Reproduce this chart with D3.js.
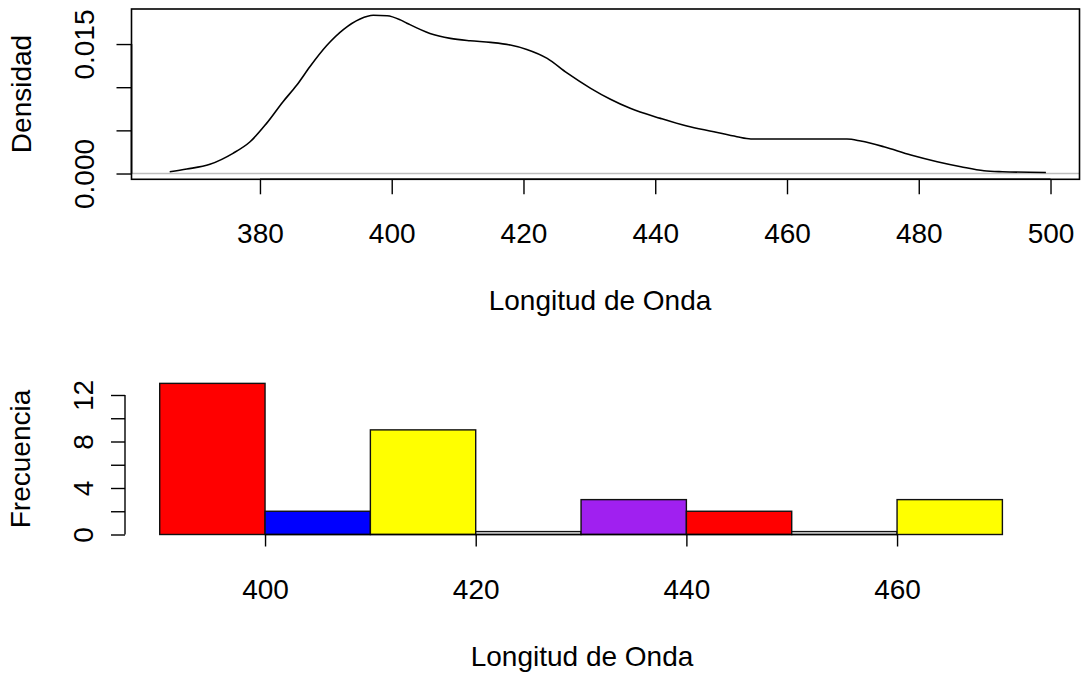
<!DOCTYPE html>
<html>
<head>
<meta charset="utf-8">
<script src="https://cdn.jsdelivr.net/npm/d3@7/dist/d3.min.js"></script>
<style>
  html, body { margin: 0; padding: 0; background: #fff; }
  svg { display: block; }
  text { font-family: "Liberation Sans", Arial, Helvetica, sans-serif; fill: #000; }
</style>
</head>
<body>
<svg id="chart" width="1085" height="673"></svg>
<script>
// Kernel density estimate of wavelength (nm)
const densX = [366.3, 368.9, 372.4, 375.9, 378.5, 381.0, 383.5, 385.6, 387.6, 390.1,
               392.7, 395.2, 397.2, 399.3, 401.3, 402.3, 405.8, 408.9, 411.9, 415.0,
               418.0, 420.5, 423.6, 426.6, 430.2, 433.2, 436.2, 440.8, 444.8,
               448.9, 452.4, 454.5, 460.0, 469.1, 471.2, 474.7, 478.8, 482.8, 486.4,
               489.9, 492.7, 499.3];
const densY = [0.00021, 0.00052, 0.00107, 0.00234, 0.00368, 0.00581, 0.00832, 0.01025, 0.01240, 0.01480,
               0.01670, 0.01790, 0.01833, 0.01828, 0.01780, 0.01742, 0.01623, 0.01566, 0.01538, 0.01519,
               0.01488, 0.01438, 0.01334, 0.01165, 0.00987, 0.00860, 0.00755, 0.00639, 0.00550,
               0.00484, 0.00426, 0.00400, 0.00400, 0.00400, 0.00376, 0.00310, 0.00214, 0.00137, 0.00079,
               0.00032, 0.00021, 0.00012];
const densXTicks = [380, 400, 420, 440, 460, 480, 500];
const densYTicks = [0, 0.005, 0.010, 0.015];
const densYLabels = [0, 0.015];

// Histogram of wavelength, 10 nm bins
const binStart = [390, 400, 410, 420, 430, 440, 450, 460];
const binEnd   = [400, 410, 420, 430, 440, 450, 460, 470];
const binCount = [13, 2, 9, 0.25, 3, 2, 0.25, 3];
const binColor = ["#FF0000", "#0000FF", "#FFFF00", "#FFFFFF", "#A020F0", "#FF0000", "#FFFFFF", "#FFFF00"];
const histXTicks = [400, 420, 440, 460];
const histYTicks = [0, 2, 4, 6, 8, 10, 12];
const histYLabels = [0, 4, 8, 12];

const xTitle = "Longitud de Onda";
const densYTitle = "Densidad";
const histYTitle = "Frecuencia";

const FS = 28;
const TICK = 15;
const svg = d3.select("#chart");

function styleAxis(g) {
  g.select(".domain").remove();
  g.selectAll(".tick line").attr("stroke", "#000").attr("stroke-width", 1.4);
  g.selectAll(".tick text").attr("font-size", FS).attr("fill", "#000")
    .attr("font-family", "Liberation Sans, Arial, sans-serif");
}

// ---------- Top panel: density ----------
const dx = d3.scaleLinear().domain([360.5, 504.4]).range([131.5, 1079.5]);
const dy = d3.scaleLinear().domain([-0.00067, 0.01906]).range([179.3, 9]);

// zero line
svg.append("line")
  .attr("x1", dx.range()[0]).attr("x2", dx.range()[1])
  .attr("y1", dy(0)).attr("y2", dy(0))
  .attr("stroke", "#BEBEBE").attr("stroke-width", 1.5);

const dPts = densX.map((v, i) => [v, densY[i]]);
svg.append("path")
  .datum(dPts)
  .attr("fill", "none").attr("stroke", "#000").attr("stroke-width", 1.6)
  .attr("d", d3.line().x(d => dx(d[0])).y(d => dy(d[1])).curve(d3.curveMonotoneX));

// box
svg.append("rect")
  .attr("x", dx.range()[0]).attr("y", dy.range()[1])
  .attr("width", dx.range()[1] - dx.range()[0])
  .attr("height", dy.range()[0] - dy.range()[1])
  .attr("fill", "none").attr("stroke", "#000").attr("stroke-width", 1.6);

const dxAxis = svg.append("g")
  .attr("transform", `translate(0,${dy.range()[0]})`)
  .call(d3.axisBottom(dx).tickValues(densXTicks).tickSize(TICK).tickPadding(0).tickFormat(d3.format("d")));
styleAxis(dxAxis);
dxAxis.selectAll(".tick text").attr("y", 54).attr("dy", "0.36em");
svg.append("line")
  .attr("x1", dx(densXTicks[0])).attr("x2", dx(densXTicks[densXTicks.length - 1]))
  .attr("y1", dy.range()[0]).attr("y2", dy.range()[0])
  .attr("stroke", "#000").attr("stroke-width", 1.6);

const dyAxis = svg.append("g")
  .attr("transform", `translate(${dx.range()[0]},0)`)
  .call(d3.axisLeft(dy).tickValues(densYTicks).tickSize(TICK)
    .tickFormat(d => densYLabels.includes(d) ? d3.format(".3f")(d) : ""));
styleAxis(dyAxis);
dyAxis.selectAll(".tick text")
  .attr("transform", "rotate(-90)").attr("x", 0).attr("y", -(dx.range()[0] - 84))
  .attr("dy", "0.36em").attr("text-anchor", "middle");
svg.append("line")
  .attr("x1", dx.range()[0]).attr("x2", dx.range()[0])
  .attr("y1", dy(densYTicks[0])).attr("y2", dy(densYTicks[densYTicks.length - 1]))
  .attr("stroke", "#000").attr("stroke-width", 1.6);

svg.append("text").attr("x", 600).attr("y", 300).attr("dy", "0.36em")
  .attr("text-anchor", "middle").attr("font-size", FS).text(xTitle);
svg.append("text").attr("transform", "translate(21,94) rotate(-90)").attr("dy", "0.36em")
  .attr("text-anchor", "middle").attr("font-size", FS).text(densYTitle);

// ---------- Bottom panel: histogram ----------
const hx = d3.scaleLinear().domain([386.8, 473.2]).range([126, 1036.1]);
const hy = d3.scaleLinear().domain([0, 12]).range([534.5, 395]);

svg.append("g").selectAll("rect")
  .data(binStart.map((s, i) => ({ s, e: binEnd[i], c: binCount[i], col: binColor[i] })))
  .join("rect")
  .attr("x", d => hx(d.s)).attr("width", d => hx(d.e) - hx(d.s))
  .attr("y", d => hy(d.c)).attr("height", d => hy(0) - hy(d.c))
  .attr("fill", d => d.col).attr("stroke", "#111").attr("stroke-width", 1.4);

const hxAxis = svg.append("g")
  .attr("transform", `translate(0,${hy(0)})`)
  .call(d3.axisBottom(hx).tickValues(histXTicks).tickSize(TICK - 3).tickPadding(0).tickFormat(d3.format("d")));
styleAxis(hxAxis);
hxAxis.selectAll(".tick text").attr("y", 54).attr("dy", "0.36em");
svg.append("line")
  .attr("x1", hx(histXTicks[0])).attr("x2", hx(histXTicks[histXTicks.length - 1]))
  .attr("y1", hy(0)).attr("y2", hy(0))
  .attr("stroke", "#000").attr("stroke-width", 1.4);

const hyAxis = svg.append("g")
  .attr("transform", "translate(125,0)")
  .call(d3.axisLeft(hy).tickValues(histYTicks).tickSize(TICK - 1)
    .tickFormat(d => histYLabels.includes(d) ? String(d) : ""));
styleAxis(hyAxis);
hyAxis.selectAll(".tick text")
  .attr("transform", "rotate(-90)").attr("x", 0).attr("y", -(125 - 83))
  .attr("dy", "0.36em").attr("text-anchor", "middle");
svg.append("line")
  .attr("x1", 125).attr("x2", 125)
  .attr("y1", hy(histYTicks[0])).attr("y2", hy(histYTicks[histYTicks.length - 1]))
  .attr("stroke", "#000").attr("stroke-width", 1.4);

svg.append("text").attr("x", 582).attr("y", 656).attr("dy", "0.36em")
  .attr("text-anchor", "middle").attr("font-size", FS).text(xTitle);
svg.append("text").attr("transform", "translate(20,459) rotate(-90)").attr("dy", "0.36em")
  .attr("text-anchor", "middle").attr("font-size", FS).text(histYTitle);
</script>
</body>
</html>
